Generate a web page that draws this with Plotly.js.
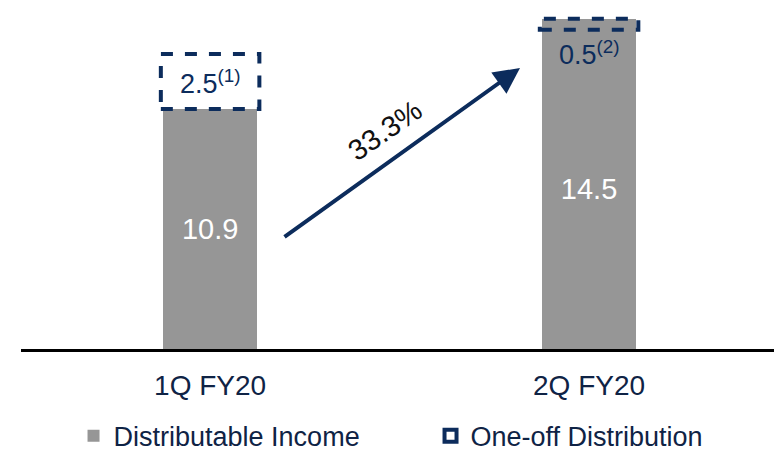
<!DOCTYPE html>
<html>
<head>
<meta charset="utf-8">
<script src="https://cdn.plot.ly/plotly-3.0.1.min.js"></script>
<style>html,body{margin:0;padding:0;background:#fff;}#chart{width:774px;height:452px;}</style>
</head>
<body>
<div id="chart"></div>
<script>
var categories = ['1Q FY20', '2Q FY20'];
var distributableIncome = [10.9, 14.5];
var oneOffDistribution = [2.5, 0.5];
var oneOffLabels = ['2.5<sup>(1)</sup>', '0.5<sup>(2)</sup>'];
var growthLabel = '33.3%';

var GREY = '#969696';
var NAVY = '#0c2c5c';
var TEXT = '#0f2345';
var FONT = 'Liberation Sans, Arial, sans-serif';

var traces = [
  {
    type: 'bar', name: 'Distributable Income', x: categories, y: distributableIncome,
    marker: {color: GREY, line: {width: 0}}, width: 0.25,
    text: distributableIncome.map(function (v) { return v.toFixed(1); }),
    textposition: 'inside', insidetextanchor: 'middle',
    textfont: {color: '#ffffff', size: 29, family: FONT},
    hoverinfo: 'skip'
  },
  {
    type: 'bar', name: 'One-off Distribution', x: categories, y: oneOffDistribution,
    marker: {color: ['#ffffff', GREY], line: {width: 0}}, width: 0.25,
    showlegend: false, hoverinfo: 'skip'
  },
  {
    type: 'bar', name: 'One-off Distribution', x: [categories[0]], y: [null],
    marker: {color: '#ffffff', line: {color: NAVY, width: 4}}, showlegend: true,
    hoverinfo: 'skip'
  }
];

var shapes = [];
var annotations = [];
for (var i = 0; i < categories.length; i++) {
  shapes.push({
    type: 'rect', xref: 'x', yref: 'y', layer: 'above',
    x0: i - 0.13, x1: i + 0.13,
    y0: distributableIncome[i], y1: distributableIncome[i] + oneOffDistribution[i],
    line: {color: NAVY, width: 4, dash: 'dash'}, fillcolor: 'rgba(0,0,0,0)'
  });
  var thin = oneOffDistribution[i] < 1;
  annotations.push({
    xref: 'x', yref: 'y', x: i,
    y: thin ? distributableIncome[i] : distributableIncome[i] + oneOffDistribution[i] / 2,
    yanchor: thin ? 'top' : 'middle', yshift: thin ? -4 : 0,
    text: oneOffLabels[i], showarrow: false,
    font: {color: NAVY, size: 27, family: FONT}
  });
}
annotations.push({
  xref: 'paper', yref: 'paper', x: 0.6627, y: 0.829,
  axref: 'pixel', ayref: 'pixel', ax: -237, ay: 170,
  text: '', showarrow: true, arrowhead: 2, arrowsize: 1.3, arrowwidth: 4, arrowcolor: NAVY
});
annotations.push({
  xref: 'paper', yref: 'paper', x: 0.484, y: 0.645,
  text: growthLabel, showarrow: false, textangle: -35,
  font: {color: '#111111', size: 29, family: FONT}
});

var layout = {
  width: 774, height: 452,
  margin: {l: 21, r: 0, t: 10, b: 103},
  paper_bgcolor: '#ffffff', plot_bgcolor: '#ffffff',
  barmode: 'stack',
  font: {family: FONT},
  xaxis: {
    type: 'category', range: [-0.499, 1.488],
    showline: true, linecolor: '#000000', linewidth: 3,
    ticks: 'outside', ticklen: 9, tickcolor: 'rgba(0,0,0,0)',
    showgrid: false, zeroline: false,
    tickfont: {size: 28, color: TEXT, family: FONT}
  },
  yaxis: {range: [0, 15.4], visible: false, showgrid: false, zeroline: false},
  showlegend: true,
  legend: {
    orientation: 'h', xref: 'container', x: 0.095, xanchor: 'left',
    yref: 'container', y: 0.035, yanchor: 'middle',
    font: {size: 27, color: TEXT, family: FONT}, traceorder: 'normal',
    itemwidth: 30, entrywidth: 312
  },
  shapes: shapes,
  annotations: annotations
};

Plotly.newPlot('chart', traces, layout, {displayModeBar: false, staticPlot: true});
</script>
</body>
</html>
